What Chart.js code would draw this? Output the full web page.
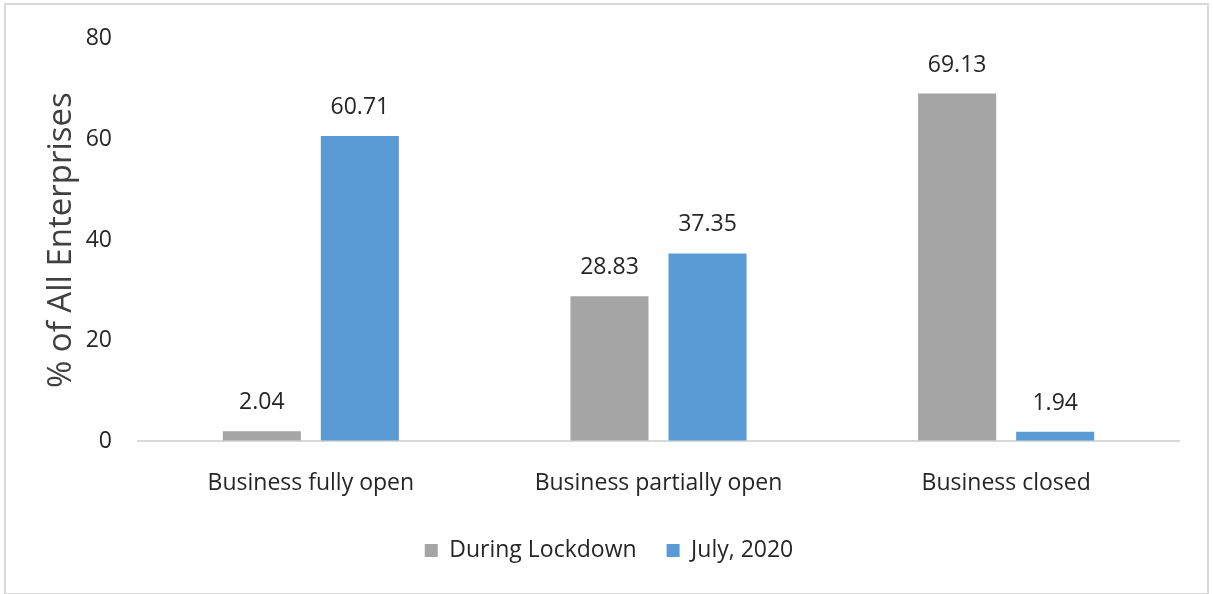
<!DOCTYPE html>
<html>
<head>
<meta charset="utf-8">
<script src="https://cdn.jsdelivr.net/npm/chart.js@4"></script>
<style>
    html, body { margin: 0; padding: 0; background: #fff; }
    #wrap { position: relative; width: 1213px; height: 594px; }
    #frame {
        position: absolute; left: 4px; top: 3px; width: 1201px; height: 588px;
        border: 2px solid #d9d9d9; pointer-events: none;
    }
    canvas { display: block; }
</style>
</head>
<body>
<div id="wrap">
    <canvas id="statusChart" width="1213" height="594"></canvas>
    <div id="frame"></div>
</div>
<script>
const categories = ["Business fully open", "Business partially open", "Business closed"];
const lockdownValues = [2.04, 28.83, 69.13];
const julyValues = [60.71, 37.35, 1.94];
const seriesNames = ["During Lockdown", "July, 2020"];
const yTicks = [0, 20, 40, 60, 80];

const labelFont = "'Open Sans', sans-serif";
const textColor = "#262626";

// value labels above each bar
const barValueLabels = {
    id: "barValueLabels",
    afterDatasetsDraw(chart) {
        const ctx = chart.ctx;
        ctx.save();
        ctx.font = "23px " + labelFont;
        ctx.fillStyle = textColor;
        ctx.textAlign = "center";
        ctx.textBaseline = "bottom";
        chart.data.datasets.forEach((ds, i) => {
            const meta = chart.getDatasetMeta(i);
            meta.data.forEach((bar, j) => {
                ctx.fillText(ds.data[j].toFixed(2), bar.x, bar.y - 17);
            });
        });
        ctx.restore();
    }
};

const ctx = document.getElementById("statusChart").getContext("2d");
new Chart(ctx, {
    type: "bar",
    data: {
        labels: categories,
        datasets: [
            {
                label: seriesNames[0],
                data: lockdownValues,
                backgroundColor: "#a5a5a5",
                categoryPercentage: 0.564,
                barPercentage: 0.796
            },
            {
                label: seriesNames[1],
                data: julyValues,
                backgroundColor: "#5b9bd5",
                categoryPercentage: 0.564,
                barPercentage: 0.796
            }
        ]
    },
    options: {
        responsive: false,
        animation: false,
        layout: { padding: { left: 38, right: 33, top: 31, bottom: 22 } },
        plugins: {
            tooltip: { enabled: false },
            legend: {
                position: "bottom",
                labels: {
                    boxWidth: 13,
                    boxHeight: 13,
                    padding: 30,
                    color: textColor,
                    font: { family: labelFont, size: 23 }
                }
            }
        },
        scales: {
            x: {
                grid: { display: false },
                border: { display: false },
                afterFit(scale) {
                    scale.height -= 8;
                },
                ticks: {
                    color: textColor,
                    padding: 20,
                    font: { family: labelFont, size: 23 }
                }
            },
            y: {
                min: 0,
                max: 80,
                afterBuildTicks(scale) {
                    scale.ticks = yTicks.map(v => ({ value: v }));
                },
                afterFit(scale) {
                    scale.width = 99;
                },
                grid: {
                    drawTicks: false,
                    lineWidth: 2,
                    color: c => (c.tick && c.tick.value === 0 ? "#d9d9d9" : "rgba(0,0,0,0)")
                },
                border: { display: false },
                ticks: {
                    color: textColor,
                    padding: 25,
                    font: { family: labelFont, size: 23 }
                },
                title: {
                    display: true,
                    text: "% of All Enterprises",
                    color: "#404040",
                    padding: { top: 4, bottom: 0 },
                    font: { family: labelFont, size: 33 }
                }
            }
        }
    },
    plugins: [barValueLabels]
});
</script>
</body>
</html>
